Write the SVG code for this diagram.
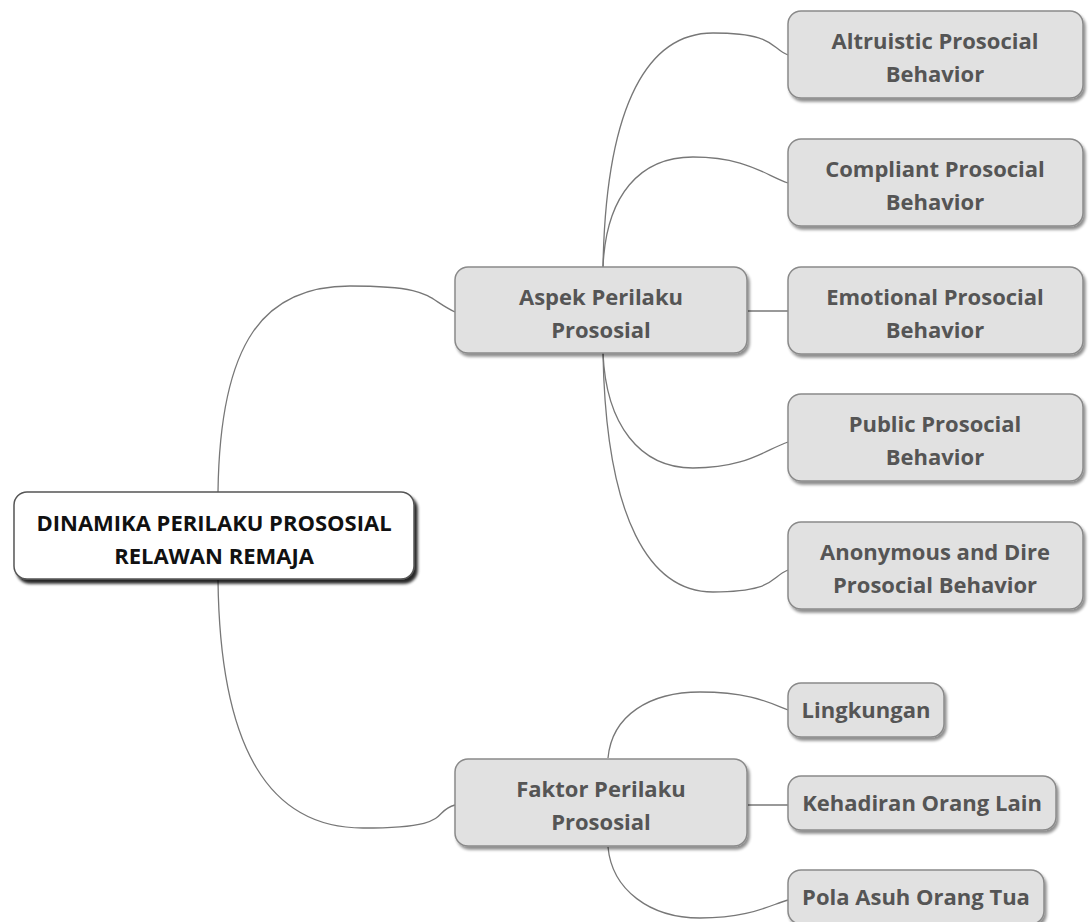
<svg xmlns="http://www.w3.org/2000/svg" width="1090" height="922" viewBox="0 0 1090 922">
<defs>
<filter id="sh" x="-10%" y="-10%" width="125%" height="135%">
<feGaussianBlur in="SourceAlpha" stdDeviation="1.5"/>
<feOffset dx="2" dy="3" result="b"/>
<feComponentTransfer><feFuncA type="linear" slope="0.45"/></feComponentTransfer>
<feMerge><feMergeNode/><feMergeNode in="SourceGraphic"/></feMerge>
</filter>
<filter id="shr" x="-10%" y="-10%" width="125%" height="140%">
<feGaussianBlur in="SourceAlpha" stdDeviation="1.5"/>
<feOffset dx="3" dy="4" result="b"/>
<feComponentTransfer><feFuncA type="linear" slope="0.85"/></feComponentTransfer>
<feMerge><feMergeNode/><feMergeNode in="SourceGraphic"/></feMerge>
</filter>
</defs>
<style>
.box{fill:#e1e1e1;stroke:#8a8a8a;stroke-width:1.5;filter:url(#sh)}
.root{fill:#ffffff;stroke:#555;stroke-width:1.5;filter:url(#shr)}
.t{font-family:"Open Sans","Noto Sans",sans-serif;font-weight:bold;font-size:22px;fill:#555;text-anchor:middle}
.rt{font-family:"Open Sans","Noto Sans",sans-serif;font-weight:bold;font-size:22px;fill:#111;text-anchor:middle}
.c{fill:none;stroke:#777;stroke-width:1.3}
</style>
<rect width="1090" height="922" fill="#ffffff"/>
<g id="connectors">
<path class="c" d="M218,492 C220,340 265,286 350,286 S425,298 455,312"/>
<path class="c" d="M218,580 C220,750 270,828 363,828 S430,812 455,805"/>
<path class="c" d="M603,267 C606,100 650,33 713,33 S770,48 788,55"/>
<path class="c" d="M603,267 C606,195 640,157 693,157 S765,175 788,183"/>
<path class="c" d="M748,311 L788,311"/>
<path class="c" d="M603,353 C606,425 640,468 693,468 S765,450 788,442"/>
<path class="c" d="M603,353 C606,520 650,592 713,592 S770,577 788,570"/>
<path class="c" d="M608,758 C612,715 650,692 700,692 S770,703 788,710"/>
<path class="c" d="M748,805 L788,805"/>
<path class="c" d="M608,847 C612,890 650,918 700,918 S770,905 788,900"/>
</g>
<g id="root">
<rect class="root" x="14" y="492" width="400" height="87" rx="13"/>
<text class="rt" x="214" y="531">DINAMIKA PERILAKU PROSOSIAL</text>
<text class="rt" x="214" y="564">RELAWAN REMAJA</text>
</g>
<g id="aspek">
<rect class="box" x="455" y="267" width="292" height="86" rx="13"/>
<text class="t" x="601" y="305">Aspek Perilaku</text>
<text class="t" x="601" y="338">Prososial</text>
</g>
<g id="faktor">
<rect class="box" x="455" y="759" width="292" height="87" rx="13"/>
<text class="t" x="601" y="797">Faktor Perilaku</text>
<text class="t" x="601" y="830">Prososial</text>
</g>
<g id="altruistic">
<rect class="box" x="788" y="11" width="295" height="87" rx="13"/>
<text class="t" x="935" y="49">Altruistic Prosocial</text>
<text class="t" x="935" y="82">Behavior</text>
</g>
<g id="compliant">
<rect class="box" x="788" y="139" width="295" height="87" rx="13"/>
<text class="t" x="935" y="177">Compliant Prosocial</text>
<text class="t" x="935" y="210">Behavior</text>
</g>
<g id="emotional">
<rect class="box" x="788" y="267" width="295" height="87" rx="13"/>
<text class="t" x="935" y="305">Emotional Prosocial</text>
<text class="t" x="935" y="338">Behavior</text>
</g>
<g id="public">
<rect class="box" x="788" y="394" width="295" height="87" rx="13"/>
<text class="t" x="935" y="432">Public Prosocial</text>
<text class="t" x="935" y="465">Behavior</text>
</g>
<g id="anonymous">
<rect class="box" x="788" y="522" width="295" height="87" rx="13"/>
<text class="t" x="935" y="560">Anonymous and Dire</text>
<text class="t" x="935" y="593">Prosocial Behavior</text>
</g>
<g id="lingkungan">
<rect class="box" x="788" y="683" width="156" height="54" rx="13"/>
<text class="t" x="866" y="718">Lingkungan</text>
</g>
<g id="kehadiran">
<rect class="box" x="788" y="776" width="268" height="54" rx="13"/>
<text class="t" x="922" y="811">Kehadiran Orang Lain</text>
</g>
<g id="pola">
<rect class="box" x="788" y="870" width="256" height="54" rx="13"/>
<text class="t" x="916" y="905">Pola Asuh Orang Tua</text>
</g>
</svg>
